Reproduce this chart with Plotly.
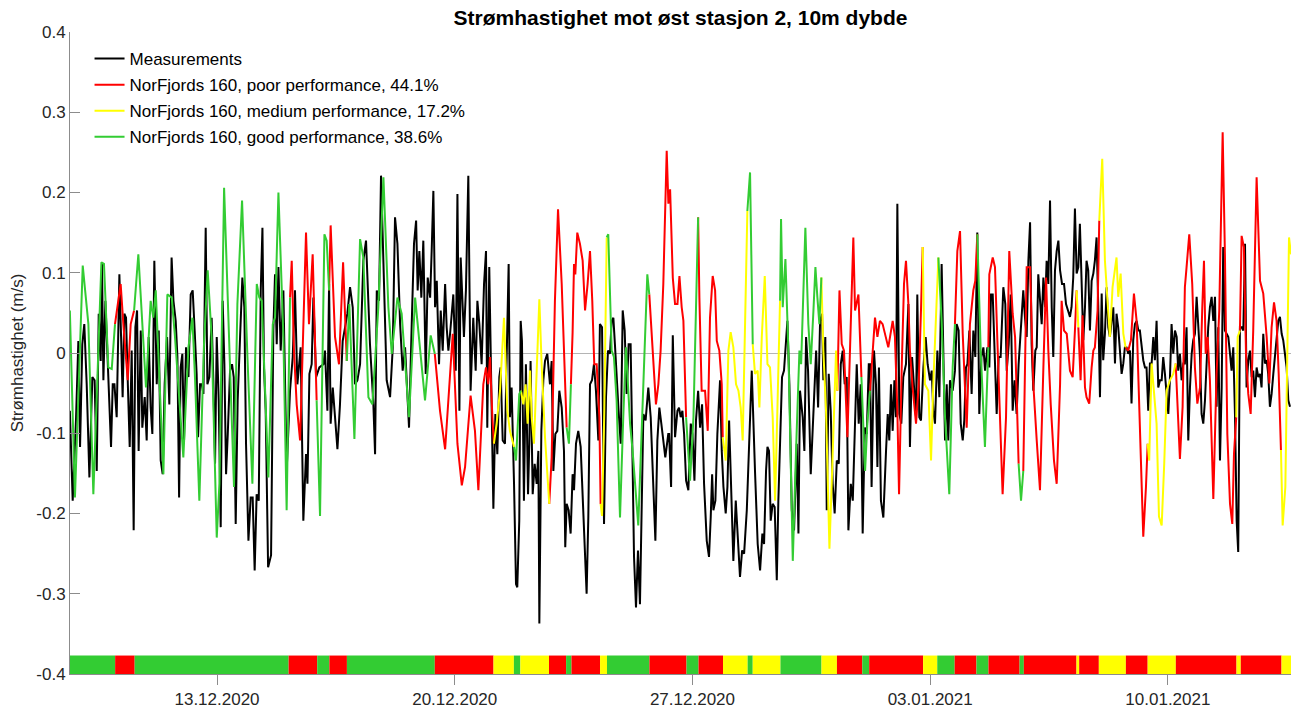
import numpy as np
import pandas as pd
import plotly.graph_objects as go

# Tid i timer etter 08.12.2020 00:00
t0 = pd.Timestamp("2020-12-08 00:00")

# -- Målinger -------------------------------------------------------------
maal_timer = [
    16.0, 18.0, 20.4, 22.0, 23.2, 24.8, 26.2, 27.9, 29.8, 31.9, 33.5, 35.0, 36.4, 37.8, 38.7, 39.7,
    41.1, 42.5, 43.9, 45.1, 46.3, 47.5, 49.1, 51.0, 52.2, 53.3, 54.5, 55.7, 56.9, 58.3, 59.7, 61.1,
    62.3, 63.5, 64.6, 66.1, 67.2, 68.9, 70.3, 71.7, 73.1, 74.3, 75.7, 77.4, 78.8, 80.2, 81.6, 83.0,
    84.7, 86.3, 87.9, 89.2, 90.8, 92.0, 93.2, 94.3, 95.5, 96.7, 98.1, 99.8, 101.4, 102.8, 104.2, 105.6,
    106.6, 108.0, 109.2, 110.4, 112.0, 113.2, 114.6, 116.2, 117.4, 118.6, 119.8, 121.2, 122.6, 124.0,
    125.2, 126.4, 127.6, 129.2, 130.6, 131.8, 133.2, 134.6, 136.3, 137.9, 139.3, 140.5, 142.2, 143.8,
    145.2, 146.6, 148.0, 149.5, 150.9, 152.1, 153.2, 154.4, 156.1,
    158.2, 159.8, 161.0, 162.2, 163.4, 165.0, 166.9, 169.2, 171.6, 173.5, 175.1, 176.8, 179.1, 181.0,
    182.9, 183.9, 185.3, 186.9, 188.1, 190.0, 192.3, 195.2, 196.3, 198.0, 199.2, 200.3, 201.8, 203.4,
    205.1, 206.9, 208.8, 210.5, 212.1, 214.0, 215.9, 217.5, 219.2, 221.1, 223.4, 225.3, 228.1, 230.5,
    231.7, 232.9, 234.5, 235.9, 238.0, 239.9, 242.3, 244.2, 245.8, 247.5, 249.4, 251.2, 252.9, 254.5,
    255.7, 257.6, 259.2, 260.7, 261.8, 263.0, 264.4, 265.8, 267.5, 268.9, 270.6, 271.7, 272.9, 274.1,
    275.3, 276.9, 278.1, 279.5, 281.2, 282.3, 283.5, 284.7, 287.0, 288.7, 289.9, 291.3, 292.2,
    294.5, 295.9, 297.6, 299.2, 301.1, 302.8, 304.0, 305.4, 307.0, 308.7, 310.1, 311.0, 312.4, 314.1,
    315.3, 316.7, 318.1, 319.5, 320.4, 321.9, 323.5, 324.7, 326.1, 327.0, 328.2, 329.9, 331.3, 332.2,
    333.6, 334.6, 335.5, 336.9, 338.3, 339.8, 340.7, 341.6, 343.1, 344.5, 345.9, 347.1, 347.8, 349.2,
    350.6, 351.8, 353.4, 355.3, 356.5, 357.7, 359.1, 360.5, 361.9, 363.6, 365.2, 366.1, 367.1, 368.5,
    369.9, 371.3, 372.3, 373.7, 375.3, 377.0, 378.4, 380.1, 381.2, 382.4, 383.6, 385.0, 386.4, 387.8,
    389.5, 390.6, 392.1, 393.5, 394.9, 396.3, 397.7, 398.9, 400.1, 401.2, 402.4, 403.8, 405.3, 406.7,
    408.1, 409.5, 410.9, 412.3, 413.7, 414.7, 416.1, 417.5, 418.9, 420.3, 421.3, 422.9, 424.8, 426.5,
    427.9, 429.8, 431.2, 432.6, 434.0, 435.4, 436.8, 438.9,
    439.5, 440.9, 442.1, 443.7, 445.4, 446.5, 447.7, 448.9, 450.1, 451.5, 453.1, 454.8, 456.0, 457.4,
    458.5, 460.0, 461.4, 462.8, 464.2, 466.1, 467.7, 468.9, 469.9, 470.8, 472.2, 473.6, 475.5, 476.7,
    477.9, 479.5, 480.7, 481.9, 483.3, 484.9, 486.6, 488.5, 489.6, 491.1, 492.5, 494.4, 496.0, 497.9,
    500.2, 502.1, 503.8, 505.4, 506.6, 508.0, 509.0, 510.1, 511.3, 512.7, 514.1, 515.6, 516.7, 517.9,
    519.3, 520.7, 522.2, 523.1, 524.5, 526.2, 527.8, 529.7, 530.9, 532.0, 533.9, 535.1, 536.3, 537.7,
    539.6, 541.0, 541.9, 543.4, 544.8, 546.2, 547.6, 548.5, 549.9, 550.9, 552.3, 553.7, 555.1, 556.5,
    558.0, 559.4, 560.8, 562.2, 563.6, 565.0, 566.2, 567.9, 569.3, 570.7, 572.1, 573.5, 574.9, 576.3,
    577.8, 579.2, 580.6,
    581.5, 582.6, 584.3, 585.7, 586.7, 587.8, 589.2, 590.9, 592.8, 594.0, 595.1, 596.3, 597.5, 598.7,
    599.8, 600.8, 602.2, 603.6, 605.0, 606.9, 608.6, 609.7, 611.2, 612.6, 614.0, 614.9, 616.3, 617.5,
    619.2, 620.8, 622.2, 623.9, 625.1, 626.2, 627.4, 629.1, 630.5, 632.1, 633.3, 634.5, 635.7, 636.8,
    638.0, 639.9, 641.5, 642.7, 644.1, 645.6, 647.0, 648.1, 649.3, 650.3, 651.7, 653.3, 654.5, 655.9,
    657.3, 658.7, 660.2, 661.6, 662.8, 664.4, 665.8, 667.0, 668.2, 669.3, 671.0, 672.4, 673.8, 675.7,
    677.1, 678.1, 679.5, 680.9, 682.3, 683.7, 685.1, 686.5, 688.0, 689.8, 691.0, 692.2, 693.4, 694.6,
    695.7, 696.9, 698.3, 699.3, 700.4, 701.6, 702.8, 704.0, 705.2, 706.3, 707.5, 708.7, 709.9, 711.0,
    712.2, 713.4, 714.6, 715.8, 717.2, 718.6, 720.0, 721.4,
    722.8, 723.9, 725.1, 726.3, 727.5, 728.7, 729.8, 731.0, 732.2, 733.4, 734.5, 735.7, 736.9, 738.1,
    739.3, 740.4, 741.6, 742.8, 744.0, 745.2, 746.3, 747.5, 748.7, 749.9, 751.0, 752.2, 753.4, 754.6,
    755.7, 756.9, 758.1, 759.3, 760.5, 761.6, 762.8, 764.0, 765.2, 766.3, 767.5, 768.7, 769.9, 771.1,
    772.2, 773.4, 774.6, 775.8, 776.9, 778.1, 779.3, 780.5, 781.7, 782.8, 784.0, 785.2, 786.4, 787.6,
    788.7, 789.9, 791.1, 792.3, 793.4, 794.6, 795.8, 797.0, 798.2, 799.3, 800.5, 801.7, 802.9, 804.0,
    805.2, 806.4, 807.6, 808.8, 809.9, 811.1, 812.3, 813.5, 814.6, 815.8, 817.0, 818.2, 819.4, 820.5,
    821.7, 822.9, 824.1, 825.3, 826.4, 827.6, 828.8, 830.0, 831.1, 832.3, 833.5, 834.7, 835.9, 837.0,
    838.2, 839.4, 840.6, 841.7, 842.9, 844.1, 845.3, 846.5, 847.6, 848.8, 850.0, 851.2, 852.3, 853.5,
    854.7, 855.9, 857.1, 858.2, 859.4, 860.6, 861.8, 862.9, 864.1, 865.3, 866.5, 867.7, 868.8, 870.0,
    871.2, 872.4, 873.5, 874.7, 875.9, 877.1, 878.3,
]
maal_verdi = [
    -0.072, -0.184, -0.080, 0.015, -0.117, 0.011, 0.036, -0.039, -0.155, -0.030, -0.034, -0.147, 0.049, -0.010, 0.111, -0.034,
    0.065, -0.005, -0.080, -0.117, -0.039, -0.039, -0.080, 0.098, 0.020, -0.055, 0.049, 0.044, -0.034, -0.117, 0.003, -0.221,
    0.032, 0.053, -0.122, 0.028, -0.093, -0.055, -0.109, 0.020, -0.068, -0.101, 0.115, -0.039, 0.028, -0.134, -0.151, -0.039,
    0.020, -0.064, 0.119, 0.065, 0.040, -0.005, -0.180, -0.018, -0.001, -0.109, 0.007, -0.030, 0.073, 0.078, 0.028, -0.026,
    -0.105, -0.039, -0.039, -0.051, 0.156, -0.039, -0.030, 0.044, -0.034, -0.138, 0.020, -0.059, -0.217, 0.065,
    -0.014, -0.151, -0.101, -0.022, -0.014, -0.030, -0.213, -0.059, 0.020, 0.094, 0.057, -0.113, -0.234, -0.180,
    -0.180, -0.271, -0.176, -0.184, 0.078, 0.156, -0.018, -0.072, -0.267,
    -0.252, 0.028, 0.098, 0.011, 0.107, 0.003, 0.078, -0.147, -0.047, -0.005, 0.078, -0.039, 0.007, -0.209,
    -0.126, -0.163, -0.026, -0.014, 0.069, -0.030, -0.018, -0.014, 0.003, -0.072, 0.086, -0.088, -0.043, -0.080,
    -0.120, -0.064, 0.015, 0.032, 0.049, 0.082, 0.057, -0.039, -0.034, -0.014, 0.115, 0.140, 0.011, -0.064,
    -0.126, 0.078, 0.065, 0.221, 0.086, -0.034, -0.055, 0.007, 0.169, 0.136, 0.036, -0.022, 0.007, -0.055,
    -0.093, 0.036, 0.136, 0.165, 0.078, 0.127, 0.069, 0.140, -0.026, 0.094, 0.069, 0.127, 0.202, 0.057,
    0.090, -0.014, 0.053, 0.003, 0.086, 0.032, 0.003, 0.024, 0.073, -0.022, 0.198, -0.072, 0.119,
    0.020, 0.078, 0.221, -0.047, 0.044, -0.022, 0.065, 0.036, -0.014, 0.086, 0.127, -0.093, 0.107, -0.088,
    -0.194, -0.076, -0.126, -0.030, -0.018, -0.109, -0.113, -0.005, 0.111, -0.080, -0.043, -0.163, -0.288, -0.292,
    -0.209, 0.040, 0.015, -0.184, -0.014, -0.176, -0.113, -0.010, -0.176, -0.138, -0.163, -0.122, -0.337, -0.097,
    -0.034, -0.010, -0.001, -0.039, -0.010, -0.147, -0.101, -0.097, -0.047, -0.068, -0.122, -0.242, -0.188, -0.196,
    -0.225, -0.151, -0.171, -0.113, -0.097, -0.117, -0.184, -0.246, -0.300, -0.205, -0.039, -0.034, -0.014, -0.047,
    -0.109, 0.036, 0.032, -0.213, -0.055, 0.003, -0.001, 0.040, 0.044, 0.011, -0.034, -0.072, -0.113, 0.053,
    0.028, -0.051, 0.011, 0.011, -0.138, -0.254, -0.317, -0.246, -0.313, -0.188, -0.076, -0.084, -0.043, -0.080,
    -0.147, -0.234, -0.109, -0.068, -0.088, -0.113, -0.130, -0.101,
    -0.101, -0.167, 0.022, -0.105, -0.072, -0.068, -0.080, -0.072, -0.101, -0.159, -0.171, -0.088, -0.101, -0.159,
    -0.084, -0.047, -0.093, -0.064, -0.163, -0.234, -0.254, -0.205, -0.151, -0.196, -0.184, -0.101, -0.034, -0.122,
    -0.167, -0.200, -0.167, -0.084, -0.163, -0.259, -0.184, -0.250, -0.279, -0.246, -0.250, -0.196, -0.105, -0.022,
    -0.147, -0.238, -0.271, -0.225, -0.238, -0.147, -0.117, -0.122, -0.209, -0.188, -0.192, -0.283, -0.184, -0.122,
    -0.030, -0.022, 0.020, 0.040, -0.039, -0.196, -0.221, -0.113, -0.225, -0.047, -0.080, -0.122, 0.020, -0.022,
    -0.151, -0.101, -0.051, 0.003, -0.068, 0.040, 0.049, -0.034, 0.020, -0.196, -0.026, -0.072, -0.163, -0.200,
    -0.134, -0.138, -0.014, 0.003, -0.039, -0.030, -0.221, -0.163, -0.184, -0.080, -0.014, -0.088, -0.039, -0.225,
    -0.093, -0.101, -0.014,
    -0.014, -0.167, 0.003, -0.039, -0.142, -0.018, -0.184, -0.205, -0.122, -0.076, -0.109, -0.039, -0.097, -0.034,
    -0.080, 0.186, -0.076, -0.088, -0.030, -0.014, 0.061, -0.117, -0.005, -0.039, -0.080, 0.073, -0.080, -0.084,
    -0.018, 0.020, -0.014, -0.034, -0.022, -0.072, -0.088, 0.003, -0.055, 0.111, 0.020, -0.109, -0.039, -0.109,
    -0.034, -0.047, -0.022, 0.036, 0.028, -0.088, -0.109, -0.084, -0.018, -0.014, 0.028, -0.051, 0.028, -0.005,
    0.150, -0.076, -0.005, 0.007, -0.022, 0.007, -0.018, 0.073, 0.073, 0.003, -0.076, -0.005, -0.005, 0.082,
    0.061, -0.022, 0.011, 0.073, -0.072, -0.034, -0.076, -0.014, 0.036, 0.078, 0.044, 0.020, 0.115, 0.163,
    0.011, -0.047, 0.003, 0.007, 0.098, 0.065, 0.036, 0.094, 0.057, 0.115, 0.086, 0.190, 0.057, -0.005,
    0.103, 0.127, 0.140, 0.103, 0.086, 0.086, 0.061, 0.053,
    0.045, 0.057, 0.094, 0.180, 0.099, 0.107, 0.161, 0.090, 0.016, 0.057, 0.115, 0.103, 0.028, 0.090,
    0.099, 0.115, 0.144, 0.057, -0.055, 0.074, -0.009, 0.024, 0.082, 0.032, 0.020, 0.040, 0.057, -0.013,
    0.049, 0.032, 0.007, -0.026, -0.013, 0.007, 0.007, -0.001, 0.003, -0.063, 0.016, 0.036, 0.040, 0.028,
    0.028, 0.011, -0.009, -0.018, -0.018, -0.072, -0.013, -0.013, 0.020, -0.009, 0.040, -0.043, -0.034, -0.034,
    -0.005, -0.026, -0.055, -0.076, -0.034, 0.036, -0.001, 0.028, 0.020, -0.022, -0.001, -0.034, -0.013, -0.013,
    0.032, -0.109, -0.043, -0.001, 0.016, 0.024, 0.070, 0.032, -0.001, -0.076, -0.088, -0.059, -0.001, 0.032,
    0.057, 0.070, 0.040, 0.070, -0.067, 0.032, -0.134, -0.043, 0.132, 0.028, 0.024, 0.020, -0.001, -0.022,
    0.007, -0.076, -0.209, -0.248, 0.032, 0.032, 0.028, 0.136, -0.043, -0.009, 0.003, -0.030, -0.022, -0.055,
    -0.018, -0.030, -0.026, -0.043, 0.024, -0.013, -0.009, -0.026, -0.067, -0.051, -0.026, -0.001, 0.024, 0.040,
    0.045, 0.024, 0.016, -0.001, -0.018, -0.059, -0.067,
]

# -- NorFjords 160 --------------------------------------------------------
modell_timer = [
    16.0, 19.6, 25.1, 29.1, 32.6, 38.3, 40.1, 43.2, 45.6, 47.9, 49.1, 51.9, 53.8, 56.9, 59.0, 61.4,
    64.4, 69.8, 73.1, 75.0, 76.7, 82.1, 84.9, 88.0, 90.3, 96.2, 99.8, 102.6, 104.5, 107.5, 110.8, 113.4,
    116.2, 119.8, 121.7, 125.0, 128.0, 132.0, 134.4, 137.7, 141.5, 145.0, 148.1, 149.9, 151.6, 153.9,
    156.3, 159.4, 161.0, 163.4, 166.9, 169.2, 171.6, 172.8, 174.4, 176.3, 178.7, 181.0, 182.9, 185.0,
    187.6, 190.4, 192.8, 195.9, 197.5, 199.2, 200.3, 203.4, 206.2, 209.1, 211.7, 213.5, 217.1, 221.1,
    223.4, 227.0, 229.8, 234.0, 237.6, 241.1, 243.5, 247.5, 250.5, 255.7, 260.0, 263.5, 267.0, 271.0,
    273.9, 277.6, 281.2, 286.6, 289.9, 293.0, 295.3,
    299.2, 302.3, 304.7, 308.2, 310.1, 311.7, 312.9, 314.6, 315.7, 317.6, 320.0, 322.8, 325.2, 327.0,
    329.9, 331.3, 333.6, 334.8, 336.5, 338.1, 339.5, 341.2, 342.4, 344.0, 346.4, 347.8, 349.4, 351.8,
    354.8, 356.5, 358.8, 361.0, 363.6, 365.9, 367.1, 368.7, 370.1, 371.3, 372.3, 373.2, 374.6, 376.5,
    378.4, 380.1, 381.9, 383.6, 385.2, 386.6, 388.3, 390.2, 391.1, 392.1, 393.7, 395.4, 396.5, 398.9,
    400.5, 402.4, 404.8, 407.1, 409.0, 411.9, 413.7, 417.7, 420.1, 422.5, 424.1, 425.5, 427.2, 428.8,
    430.2, 431.9, 433.5, 435.4, 437.8,
    439.0, 440.2, 442.1, 443.7, 445.4, 446.8, 448.4, 449.6, 451.5, 454.3, 456.7, 458.5, 460.0, 460.9,
    462.5, 464.9, 466.8, 468.4, 470.3, 472.0, 473.2, 475.0, 476.7, 477.4, 479.5, 481.4, 483.0, 484.9,
    486.8, 488.5, 490.1, 491.5, 493.2, 494.8, 496.7, 498.6, 500.2, 502.1, 503.3, 505.0, 507.1, 509.0,
    510.8, 512.7, 514.4, 516.0, 517.9, 518.6, 519.8, 521.7, 523.8, 525.5, 526.9, 529.2, 531.6, 532.8,
    533.9, 535.8, 537.9, 539.6, 541.5, 542.9, 544.3, 545.7, 547.1, 548.5, 550.4, 552.1, 552.8, 554.4,
    556.1, 557.5, 558.4, 559.9, 561.5, 563.1, 565.5, 567.4, 569.7, 570.9, 573.3, 575.4, 578.0, 579.6,
    581.5, 583.4, 585.0, 586.7, 588.5, 590.4, 592.1, 594.4, 597.5, 599.1, 600.8, 602.0, 603.9, 605.5,
    606.9, 608.6, 609.7, 611.6, 614.0, 615.9, 617.5, 618.7, 620.3, 622.7, 624.6, 626.2, 627.9, 629.8,
    632.1, 634.5, 637.5, 639.9, 641.5, 643.2, 645.1, 647.0, 649.8, 652.1, 654.5, 655.9, 657.3, 659.7,
    662.7, 665.1, 665.8, 668.2, 669.8, 671.5, 673.4, 675.2, 677.6, 679.9, 682.3, 684.0, 686.5, 688.2,
    689.8, 692.2, 694.6, 696.9, 699.3, 701.6, 704.0, 705.9, 707.5, 709.2, 711.5, 713.4, 715.8, 716.9,
    718.6, 720.5, 722.8,
    724.7, 726.3, 727.5, 728.7, 730.3, 731.7, 733.4, 734.5, 736.4, 738.1, 739.3, 740.4, 742.3, 743.5,
    745.6, 747.5, 749.9, 751.0, 752.9, 755.7, 756.9, 758.6, 760.5, 762.1, 764.0, 765.9, 768.0, 769.9,
    772.2, 774.6, 776.5, 777.7, 778.8, 780.5, 782.1, 784.0, 785.7, 787.6, 789.4, 791.1, 793.4, 795.8,
    797.5, 798.6, 800.5, 802.4, 804.0, 805.2, 807.1, 809.2, 811.1, 812.8, 814.7, 816.3, 817.5, 818.7,
    820.1, 821.7, 824.1, 826.4, 828.3, 830.7, 832.3, 834.0, 835.9, 837.5, 838.7, 840.3, 841.3, 842.9,
    844.1, 845.7, 847.2, 848.8, 850.5, 852.3, 854.7, 857.1, 859.4, 861.8, 863.7, 865.3, 867.0, 868.8,
    870.3, 871.9, 873.1, 875.0, 876.4, 877.6, 879.0,
]
modell_verdi = [
    0.053, -0.180, 0.109, 0.036, -0.176, 0.113, 0.111, -0.018, -0.020, 0.036, 0.053, 0.086, 0.036, -0.034, 0.036, 0.053,
    0.123, -0.043, 0.065, 0.044, 0.078, -0.151, 0.073, 0.069, 0.020, -0.130, 0.007, 0.044, -0.034, -0.184, 0.011, 0.103,
    0.020, -0.230, -0.163, 0.206, 0.044, -0.167, 0.061, 0.190, -0.005, -0.163, 0.086, 0.069, 0.065, -0.039,
    -0.155, 0.036, 0.044, 0.200, 0.020, -0.196, 0.069, 0.115, 0.003, -0.064, -0.109, 0.044, 0.150, 0.036,
    0.123, -0.059, -0.203, 0.148, 0.140, 0.078, 0.159, 0.020, -0.014, 0.113, -0.010, 0.061, -0.107, 0.142,
    0.119, -0.055, -0.064, 0.057, 0.219, 0.057, -0.001, 0.069, 0.049, -0.080, 0.069, 0.003, -0.059, 0.022,
    -0.001, -0.072, -0.120, 0.024, -0.113, -0.165, -0.142,
    -0.053, -0.097, -0.171, -0.039, -0.018, -0.039, -0.005, -0.080, -0.113, -0.088, -0.047, 0.044, -0.072, -0.097,
    -0.117, -0.134, -0.051, -0.047, -0.064, -0.039, -0.088, -0.022, -0.080, -0.113, -0.005, 0.067, -0.014, -0.105,
    -0.188, -0.130, 0.065, 0.179, 0.086, -0.039, -0.093, -0.113, -0.039, 0.026, 0.111, 0.098, 0.150, 0.136,
    0.115, 0.053, 0.086, 0.127, 0.065, -0.014, -0.014, -0.080, -0.188, -0.203, -0.072, 0.144, 0.148, 0.003,
    -0.005, -0.059, -0.205, -0.080, 0.007, -0.088, -0.122, -0.215, -0.088, 0.020, 0.098, 0.073, 0.020, -0.030,
    -0.064, -0.039, 0.003, 0.086, 0.252,
    0.186, 0.204, 0.094, 0.061, 0.061, 0.096, 0.057, 0.040, -0.080, -0.159, -0.080, 0.065, 0.169, 0.069,
    -0.047, -0.047, -0.097, 0.044, 0.096, 0.078, 0.015, 0.003, -0.039, -0.105, -0.134, 0.003, 0.026, 0.007,
    -0.039, -0.047, -0.068, -0.109, 0.044, 0.177, 0.225, 0.011, -0.026, -0.022, -0.068, 0.020, 0.096, -0.014,
    -0.018, -0.080, -0.184, -0.072, 0.065, 0.167, 0.057, 0.117, 0.003, -0.130, -0.259, -0.122, 0.003, -0.014,
    0.053, 0.156, 0.036, -0.014, 0.053, 0.107, 0.069, 0.036, 0.094, 0.003, -0.072, -0.205, -0.244, -0.163,
    -0.059, 0.003, -0.047, 0.078, 0.011, 0.003, -0.105, 0.020, 0.144, 0.053, 0.073, -0.030, -0.147, -0.088,
    -0.047, 0.003, 0.044, 0.020, 0.040, 0.036, 0.024, 0.007, 0.040, 0.020, -0.072, -0.176, -0.018, 0.086,
    0.115, 0.061, 0.003, -0.043, -0.088, -0.039, 0.053, 0.132, -0.039, -0.047, -0.134, -0.039, 0.036, 0.119,
    0.040, -0.080, -0.176, -0.018, 0.036, 0.127, 0.152, 0.024, -0.093, 0.036, 0.078, 0.090, 0.148, 0.003,
    -0.117, 0.007, 0.098, 0.119, 0.107, 0.015, -0.088, -0.176, -0.080, 0.127, 0.049, 0.020, -0.138, -0.184,
    -0.147, 0.107, 0.107, -0.039, -0.109, -0.171, -0.018, 0.094, 0.003, -0.064, -0.134, -0.163, -0.039, 0.065,
    0.028, 0.024, -0.022,
    -0.030, 0.028, 0.078, 0.032, -0.034, 0.047, -0.043, -0.055, -0.063, -0.018, 0.003, 0.007, 0.053, 0.165,
    0.242, 0.115, 0.040, 0.020, 0.082, 0.119, 0.070, 0.099, 0.024, 0.007, 0.003, 0.016, 0.074, 0.040,
    -0.084, -0.229, -0.167, -0.113, -0.134, -0.013, -0.043, -0.088, -0.204, -0.215, -0.138, -0.047, -0.034, -0.026,
    -0.013, -0.051, -0.132, -0.067, 0.082, 0.107, 0.148, 0.086, -0.018, -0.063, -0.043, 0.057, 0.115, -0.001,
    0.020, -0.034, -0.182, -0.026, 0.053, 0.275, 0.123, -0.101, -0.188, -0.213, -0.126, -0.080, 0.020, 0.028,
    0.146, 0.132, -0.001, -0.051, -0.076, 0.028, 0.219, 0.090, 0.074, 0.020, -0.038, 0.032, 0.063, 0.040,
    -0.026, -0.121, -0.215, -0.167, 0.040, 0.144, 0.123,
]

# -- Ytelsesklasser (grenser i timer, én klasse per blokk) ----------------
blokk_grenser = [
    16.1, 48.0, 61.8, 170.6, 190.8, 199.4, 211.8, 273.9, 315.4, 329.8, 334.4, 354.6, 366.7, 370.5,
    390.7, 395.6, 425.6, 451.8, 460.3, 477.6, 495.0, 498.6, 518.2, 547.2, 558.1, 576.0, 580.9, 619.0,
    629.0, 641.3, 656.7, 665.2, 687.2, 690.2, 727.4, 729.3, 743.2, 762.3, 777.7, 797.6, 840.5, 843.5,
    872.3, 880.4,
]
blokk_klasse = list("GRGRGRGR" "YGYRGRYGRGRYGYGYRGRYGRGRGRYRYRYRYRY")

klasser = ["R", "Y", "G"]
klasse_navn = ["poor", "medium", "good"]
klasse_andel = [44.1, 17.2, 38.6]
farger = {"R": "#ff0000", "Y": "#ffff00", "G": "#33cc33"}

tick_datoer = ["2020-12-13", "2020-12-20", "2020-12-27", "2021-01-03", "2021-01-10"]
y_ticks = [-0.4, -0.3, -0.2, -0.1, 0, 0.1, 0.2, 0.3, 0.4]


def til_tid(timer):
    return t0 + pd.to_timedelta(np.asarray(timer, dtype=float), unit="h")


# -- Del modellkurven opp etter klasse -------------------------------------
mt = np.asarray(modell_timer, dtype=float)
mv = np.asarray(modell_verdi, dtype=float)
midt = (mt[:-1] + mt[1:]) / 2
blokk_idx = np.clip(np.searchsorted(blokk_grenser, midt, side="right") - 1, 0, len(blokk_klasse) - 1)
bit_klasse = [blokk_klasse[i] for i in blokk_idx]

biter = {k: ([], []) for k in klasser}
for i, k in enumerate(bit_klasse):
    xs, ys = biter[k]
    if i > 0 and bit_klasse[i - 1] == k:
        xs.append(mt[i + 1]); ys.append(mv[i + 1])
    else:
        if xs:
            xs.append(None); ys.append(None)
        xs.extend([mt[i], mt[i + 1]]); ys.extend([mv[i], mv[i + 1]])

font = "Liberation Sans, Arial, sans-serif"
fig = go.Figure()

fig.add_trace(go.Scatter(
    x=til_tid(maal_timer), y=maal_verdi, mode="lines", name="Measurements",
    legendgroup="maal", line=dict(color="black", width=2),
))

for k, navn, andel in zip(klasser, klasse_navn, klasse_andel):
    xs, ys = biter[k]
    tider = [None if x is None else t0 + pd.Timedelta(hours=float(x)) for x in xs]
    fig.add_trace(go.Scatter(
        x=tider, y=ys, mode="lines",
        name=f"NorFjords 160, {navn} performance, {andel}%",
        legendgroup=k, line=dict(color=farger[k], width=2),
    ))

# fargestripe nederst
for i, k in enumerate(blokk_klasse):
    fig.add_shape(
        type="rect", xref="x", yref="y",
        x0=t0 + pd.Timedelta(hours=blokk_grenser[i]), x1=t0 + pd.Timedelta(hours=blokk_grenser[i + 1]),
        y0=-0.4, y1=-0.377, fillcolor=farger[k], line=dict(width=0), layer="above",
    )

fig.update_layout(
    width=1291, height=718,
    margin=dict(l=70, r=0, t=32, b=44),
    paper_bgcolor="white", plot_bgcolor="white",
    font=dict(family=font, size=17, color="#262626"),
    title=dict(
        text="<b>Strømhastighet mot øst stasjon 2, 10m dybde</b>",
        x=0.5, xref="paper", y=1 - 18 / 718, yref="container", yanchor="middle",
        font=dict(family=font, size=21, color="black"),
    ),
    legend=dict(
        x=0.016, y=0.986, xanchor="left", yanchor="top",
        bgcolor="rgba(0,0,0,0)", font=dict(family=font, size=17, color="black"),
        itemwidth=30, traceorder="grouped", tracegroupgap=1,
    ),
    showlegend=True,
)

fig.update_xaxes(
    range=[til_tid([16.1])[0], til_tid([879.0])[0]],
    tickvals=pd.to_datetime(tick_datoer),
    ticktext=[pd.Timestamp(d).strftime("%d.%m.%Y") for d in tick_datoer],
    showline=True, linecolor="#8c8c8c", linewidth=1,
    ticks="outside", ticklen=10, tickcolor="#8c8c8c",
    showgrid=False, zeroline=False, automargin=False,
    tickfont=dict(size=17, color="#262626"),
)
fig.update_yaxes(
    range=[-0.4, 0.4],
    tickvals=y_ticks, ticktext=[f"{v:g}" for v in y_ticks],
    showline=True, linecolor="#8c8c8c", linewidth=1,
    ticks="inside", ticklen=10, tickcolor="#8c8c8c",
    showgrid=False, zeroline=True, zerolinecolor="#b4b4b4", zerolinewidth=1,
    automargin=False,
    title=dict(text="Strømhastighet (m/s)", font=dict(size=17, color="#262626"), standoff=8),
    tickfont=dict(size=17, color="#262626"),
)

fig.write_html(
    "out.html",
    config={"displayModeBar": False},
    post_script="document.body.style.margin='0';document.body.style.overflow='hidden';",
)
